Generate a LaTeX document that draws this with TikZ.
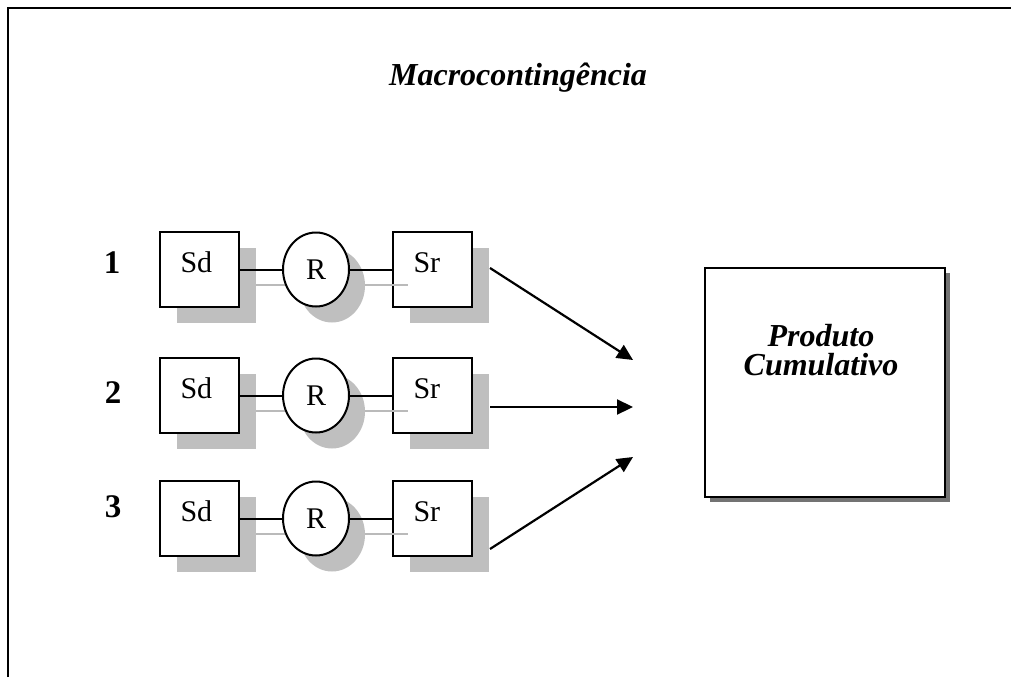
\documentclass[tikz,border=0pt]{standalone}
\usepackage{fontspec}
\setmainfont{Liberation Serif}
\usetikzlibrary{arrows.meta,shapes.geometric,shadows}

\begin{document}
\begin{tikzpicture}[x=1pt,y=-1pt,
    sbox/.style={draw,line width=2pt,fill=white,minimum width=79pt,minimum height=75pt,
        inner sep=0pt,text width=38pt,align=left,text height=20pt,text depth=15pt,
        font=\fontsize{30}{34}\selectfont,
        drop shadow={shadow xshift=17pt,shadow yshift=-16pt,fill=black!25,opacity=1}},
    rcirc/.style={ellipse,draw,line width=2pt,fill=white,minimum width=66pt,minimum height=74pt,
        inner sep=0pt,font=\fontsize{30}{34}\selectfont,
        drop shadow={shadow xshift=16pt,shadow yshift=-16pt,fill=black!25,opacity=1}},
    lnk/.style={line width=2pt},
    lnkshade/.style={line width=2pt,black!27},
    arr/.style={line width=2.2pt,-{Triangle[length=16pt,width=15pt]}},
    num/.style={font=\fontsize{33}{36}\selectfont\bfseries},
    prod/.style={draw,line width=2pt,fill=white,minimum width=240pt,minimum height=229pt,
        drop shadow={shadow xshift=5pt,shadow yshift=-5pt,fill=black!55,opacity=1}}]
    \useasboundingbox (0,0) rectangle (1011,677);

    % frame
    \draw[line width=2.5pt](8,677)--(8,8)--(1011,8);

    \node[font=\fontsize{32}{36}\selectfont\bfseries\itshape,anchor=base](titulo)at(518,85){Macrocontingência};

    % row 1
    \node[num](n1)at(112,263){1};
    \node[sbox](sd1)at(199.5,269.5){Sd};
    \node[sbox](sr1)at(432.5,269.5){Sr};
    \draw[lnkshade]([shift={(16,15)}]sd1.east)--([shift={(16,15)}]316,269.5);
    \draw[lnkshade]([shift={(16,15)}]349,269.5)--([shift={(16,15)}]sr1.west);
    \node[rcirc](r1)at(316,269.5){R};
    \draw[lnk](sd1.east)--(r1.west);
    \draw[lnk](r1.east)--(sr1.west);

    % row 2
    \node[num](n2)at(113,393){2};
    \node[sbox](sd2)at(199.5,395.5){Sd};
    \node[sbox](sr2)at(432.5,395.5){Sr};
    \draw[lnkshade]([shift={(16,15)}]sd2.east)--([shift={(16,15)}]316,395.5);
    \draw[lnkshade]([shift={(16,15)}]349,395.5)--([shift={(16,15)}]sr2.west);
    \node[rcirc](r2)at(316,395.5){R};
    \draw[lnk](sd2.east)--(r2.west);
    \draw[lnk](r2.east)--(sr2.west);

    % row 3
    \node[num](n3)at(113,507){3};
    \node[sbox](sd3)at(199.5,518.5){Sd};
    \node[sbox](sr3)at(432.5,518.5){Sr};
    \draw[lnkshade]([shift={(16,15)}]sd3.east)--([shift={(16,15)}]316,518.5);
    \draw[lnkshade]([shift={(16,15)}]349,518.5)--([shift={(16,15)}]sr3.west);
    \node[rcirc](r3)at(316,518.5){R};
    \draw[lnk](sd3.east)--(r3.west);
    \draw[lnk](r3.east)--(sr3.west);

    % arrows
    \coordinate(a1)at(490,268);
    \coordinate(a2)at(490,407);
    \coordinate(a3)at(490,549);
    \coordinate(b1)at(633,360);
    \coordinate(b2)at(633,407);
    \coordinate(b3)at(633,457);
    \draw[arr](a1)--(b1);
    \draw[arr](a2)--(b2);
    \draw[arr](a3)--(b3);

    \node[prod](pc)at(825,382.5){};
    \node[font=\fontsize{32}{29}\selectfont\bfseries\itshape,align=center,anchor=base](pct)at(821,375){Produto\\Cumulativo};
\end{tikzpicture}
\end{document}
